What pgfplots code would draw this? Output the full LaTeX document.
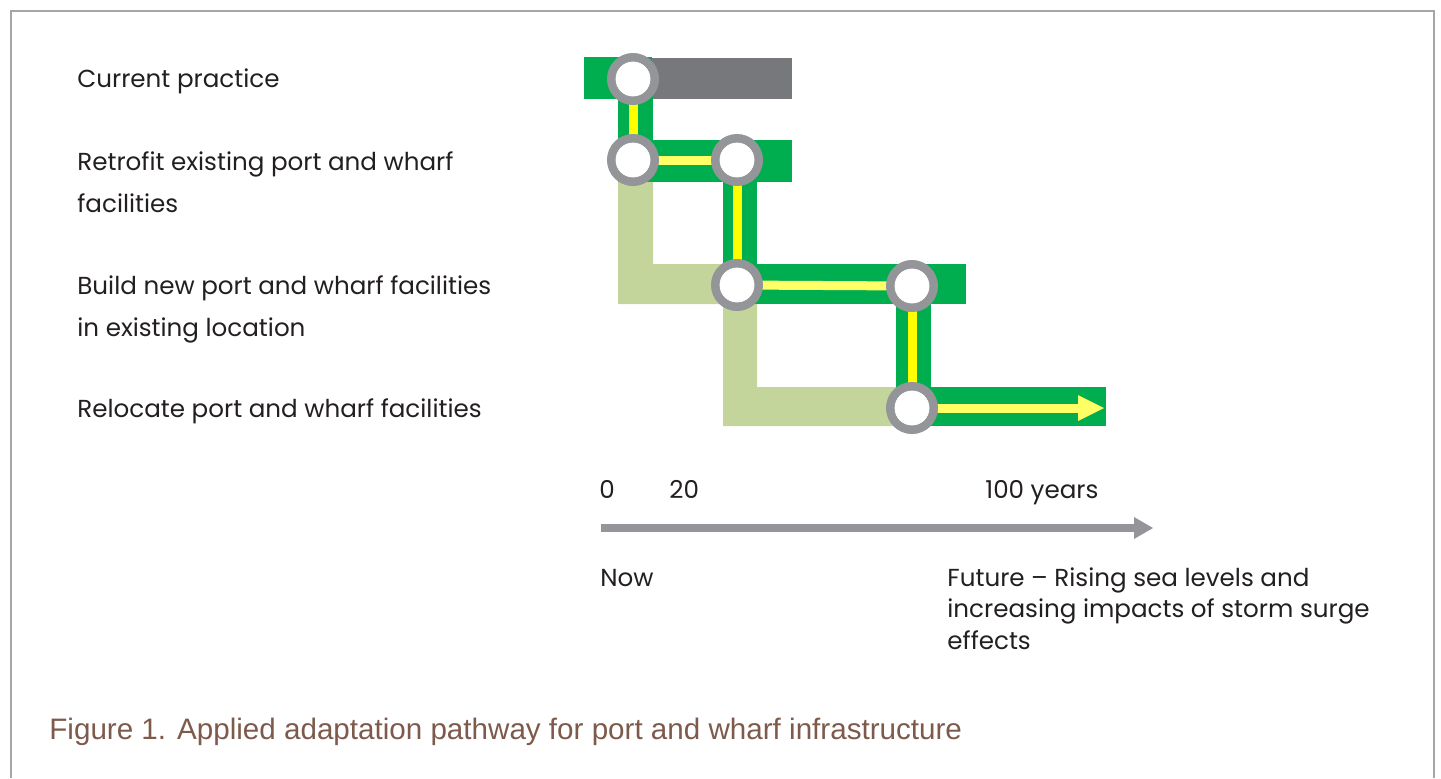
\documentclass[border=0pt]{standalone}
\usepackage{pgfplots}
\pgfplotsset{compat=1.18}
\usepackage{fontspec}
\setmainfont{Poppins}
\newfontfamily\capfont{Liberation Sans}
\definecolor{pgreen}{HTML}{00AE4F}
\definecolor{lgreen}{HTML}{C4D59C}
\definecolor{ybright}{HTML}{FFFF00}
\definecolor{ypale}{HTML}{FFFF66}
\definecolor{bargray}{HTML}{77787B}
\definecolor{ringgray}{HTML}{939598}
\definecolor{txt}{HTML}{231F20}
\definecolor{capcol}{HTML}{7D5A4B}
\definecolor{border}{HTML}{A6A6A6}
\tikzset{lab/.style={anchor=mid west, inner sep=0pt, text=txt, font=\fontsize{12.3}{14}\selectfont}}
\begin{document}
\begin{tikzpicture}
\begin{axis}[
  width=720.5pt, height=389pt, scale only axis,
  xmin=0, xmax=1441, ymin=0, ymax=778, y dir=reverse,
  axis lines=none, clip=false,
]
% border
\addplot[border, line width=1.2pt] coordinates {(11,778) (11,11) (1434,11) (1434,778)};
% light green paths
\addplot[fill=lgreen, draw=none] coordinates {(618,182) (653,182) (653,264) (737,264) (737,304) (618,304)} -- cycle;
\addplot[fill=lgreen, draw=none] coordinates {(723,304) (757,304) (757,387) (912,387) (912,426) (723,426)} -- cycle;
% green bars and connectors
\addplot[fill=pgreen, draw=none] coordinates {(584,57) (652,57) (652,99) (584,99)} -- cycle;
\addplot[fill=bargray, draw=none] coordinates {(652,58) (792,58) (792,99) (652,99)} -- cycle;
\addplot[fill=pgreen, draw=none] coordinates {(618,95) (653,95) (653,142) (618,142)} -- cycle;
\addplot[fill=pgreen, draw=none] coordinates {(618,140) (792,140) (792,182) (618,182)} -- cycle;
\addplot[fill=pgreen, draw=none] coordinates {(723,178) (757,178) (757,266) (723,266)} -- cycle;
\addplot[fill=pgreen, draw=none] coordinates {(723,264) (966,264) (966,304) (723,304)} -- cycle;
\addplot[fill=pgreen, draw=none] coordinates {(896,300) (931,300) (931,389) (896,389)} -- cycle;
\addplot[fill=pgreen, draw=none] coordinates {(912,387) (1106,387) (1106,426) (912,426)} -- cycle;
% yellow lines
\addplot[ybright, line width=4.5pt] coordinates {(633,79) (633,160)};
\addplot[ybright, line width=4.5pt] coordinates {(737,160) (737,285)};
\addplot[ybright, line width=4.5pt] coordinates {(912,286) (912,408)};
\addplot[ypale, line width=4.5pt] coordinates {(633,160) (737,160)};
\addplot[ypale, line width=4.5pt] coordinates {(737,285) (912,286)};
\addplot[ypale, line width=4.5pt] coordinates {(912,408) (1080,408)};
\addplot[fill=ypale, draw=none] coordinates {(1078,395) (1104,408) (1078,421)} -- cycle;
% decision points
\addplot[ringgray, only marks, mark=*, mark size=12.8pt, mark options={fill=ringgray, draw=ringgray, line width=0.4pt}]
  coordinates {(633,79) (633,160) (737,160) (737,285) (912,286) (912,408)};
\addplot[white, only marks, mark=*, mark size=8.5pt, mark options={fill=white, draw=white, line width=0.4pt}]
  coordinates {(633,79) (633,160) (737,160) (737,285) (912,286) (912,408)};
% timeline
\addplot[ringgray, line width=3.8pt] coordinates {(601,528) (1136,528)};
\addplot[fill=ringgray, draw=none] coordinates {(1134,517) (1153,528) (1134,539)} -- cycle;
% row labels
\node[lab] at (axis cs:77,82) {Current practice};
\node[lab] at (axis cs:77,165) {Retrofit existing port and wharf};
\node[lab] at (axis cs:77,207) {facilities};
\node[lab] at (axis cs:77,289) {Build new port and wharf facilities};
\node[lab] at (axis cs:77,331) {in existing location};
\node[lab] at (axis cs:77,412) {Relocate port and wharf facilities};
% timeline labels
\node[lab] at (axis cs:599,493) {0};
\node[lab] at (axis cs:669,493) {20};
\node[lab] at (axis cs:985,493) {100 years};
\node[lab] at (axis cs:600,581) {Now};
\node[lab] at (axis cs:947,581) {Future -- Rising sea levels and};
\node[lab] at (axis cs:947,612) {increasing impacts of storm surge};
\node[lab] at (axis cs:947,644) {effects};
% caption
\node[anchor=mid west, inner sep=0pt, font=\capfont\fontsize{14.8}{17}\selectfont, text=capcol] at (axis cs:49,734) {Figure 1. Applied adaptation pathway for port and wharf infrastructure};
\end{axis}
\pgfresetboundingbox
\path (0,0) rectangle (720.5pt,389pt);
\end{tikzpicture}
\end{document}
